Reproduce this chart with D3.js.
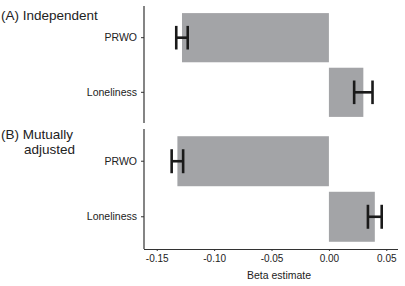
<!DOCTYPE html>
<html>
<head>
<meta charset="utf-8">
<script src="https://cdn.jsdelivr.net/npm/d3@7"></script>
<style>
  html, body { margin: 0; padding: 0; background: #fff; }
  svg { display: block; font-family: "Liberation Sans", Arial, sans-serif; }
</style>
</head>
<body>
<svg id="chart" width="405" height="286"></svg>
<script>
// ---- data ----
const panels = ["(A) Independent", "(B) Mutually adjusted"];
const categories = ["PRWO", "Loneliness"];
const estimatesA = [-0.128, 0.030];
const lowerA = [-0.133, 0.022];
const upperA = [-0.123, 0.038];
const estimatesB = [-0.132, 0.040];
const lowerB = [-0.137, 0.034];
const upperB = [-0.127, 0.046];
const xTicks = [-0.15, -0.10, -0.05, 0.00, 0.05];
const xLabel = "Beta estimate";

const svg = d3.select("#chart");
const x = d3.scaleLinear().domain([-0.1611, 0.0602]).range([144, 398]);

const panelDefs = [
  { est: estimatesA, lo: lowerA, hi: upperA, range: [6, 124], axis: [6, 123] },
  { est: estimatesB, lo: lowerB, hi: upperB, range: [129, 249], axis: [129, 249] }
];

panelDefs.forEach((p, pi) => {
  const y = d3.scaleBand().domain(categories).range(p.range)
    .paddingInner(0.1).paddingOuter(0.13);
  const g = svg.append("g");
  const rows = categories.map((c, i) => ({ c, v: p.est[i], lo: p.lo[i], hi: p.hi[i] }));

  g.selectAll("rect").data(rows).join("rect")
    .attr("x", d => x(Math.min(0, d.v)))
    .attr("width", d => Math.abs(x(d.v) - x(0)))
    .attr("y", d => y(d.c))
    .attr("height", y.bandwidth())
    .attr("fill", "#a3a4a7");

  // error bars (H shape)
  const eh = y.bandwidth() * 0.24;
  rows.forEach(d => {
    const cy = y(d.c) + y.bandwidth() / 2;
    const eg = g.append("g").attr("stroke", "#1a1a1a").attr("stroke-width", 2.6);
    eg.append("line").attr("x1", x(d.lo)).attr("x2", x(d.hi)).attr("y1", cy).attr("y2", cy);
    eg.append("line").attr("x1", x(d.lo)).attr("x2", x(d.lo)).attr("y1", cy - eh).attr("y2", cy + eh);
    eg.append("line").attr("x1", x(d.hi)).attr("x2", x(d.hi)).attr("y1", cy - eh).attr("y2", cy + eh);
  });

  // y axis
  const ya = g.append("g").attr("transform", "translate(144,0)")
    .call(d3.axisLeft(y).tickSize(3).tickPadding(4));
  ya.select(".domain").remove();
  ya.selectAll(".tick line").attr("stroke", "#333");
  ya.selectAll("text").attr("font-size", 10.5).attr("fill", "#222")
    .attr("font-family", "'Liberation Sans', Arial, sans-serif");
  g.append("line").attr("x1", 144).attr("x2", 144)
    .attr("y1", p.axis[0]).attr("y2", p.axis[1]).attr("stroke", "#333").attr("stroke-width", 1.2);
});

// panel titles
svg.append("text").attr("x", 1).attr("y", 20).attr("font-size", 13.5).attr("fill", "#222").text("(A) Independent");
const tb = svg.append("text").attr("font-size", 13.5).attr("fill", "#222");
tb.append("tspan").attr("x", 1).attr("y", 138.5).text("(B) Mutually");
tb.append("tspan").attr("x", 24).attr("y", 154).text("adjusted");

// x axis
const xa = svg.append("g").attr("transform", "translate(0,249)")
  .call(d3.axisBottom(x).tickValues(xTicks).tickFormat(d3.format(".2f")).tickSize(2).tickPadding(4));
xa.select(".domain").attr("d", "M144,0.5H398").attr("stroke", "#333").attr("stroke-width", 1.2);
xa.selectAll(".tick line").attr("stroke", "#333");
xa.selectAll("text").attr("font-size", 10).attr("fill", "#222")
  .attr("font-family", "'Liberation Sans', Arial, sans-serif")
  .text(d => d3.format(".2f")(d).replace("−", "-"));

svg.append("text").attr("x", 279).attr("y", 279).attr("text-anchor", "middle")
  .attr("font-size", 10.5).attr("fill", "#222").text(xLabel);
</script>
</body>
</html>
